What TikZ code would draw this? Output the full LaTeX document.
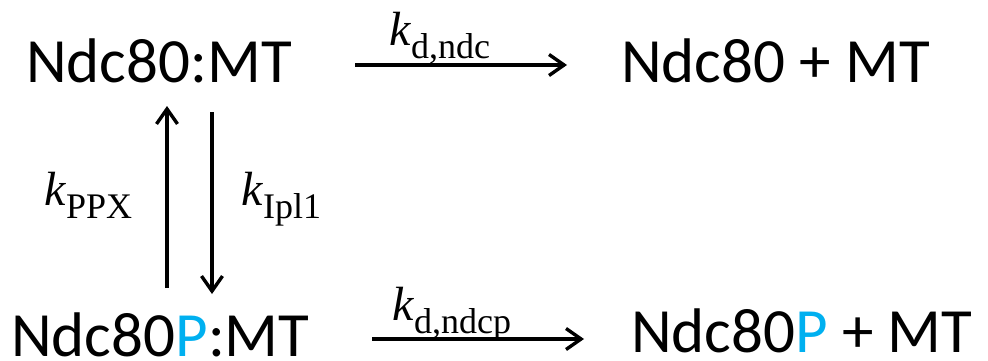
\documentclass[tikz,border=0pt]{standalone}
\usepackage{fontspec}
\setmainfont{Carlito}
\newfontfamily\tnr{Liberation Serif}
\usetikzlibrary{arrows.meta}
\definecolor{pblue}{RGB}{0,176,240}
\newcommand\rk[1]{\textit{k}\raisebox{-13pt}{\fontsize{36}{36}\selectfont #1}}
\newcommand\bp{{\color{pblue}P}}
\begin{document}
\begin{tikzpicture}[x=1pt,y=1pt,
  species/.style={anchor=base west, inner sep=0pt, font=\fontsize{63}{63}\selectfont},
  rate/.style={anchor=base west, inner sep=0pt, font=\tnr\fontsize{48}{48}\selectfont},
  arr/.style={line width=3.4pt, -{Straight Barb[length=15pt,width=21pt]}}]
\useasboundingbox (0,0) rectangle (988,360);
% species
\node[species] (tl) at (26,278) {Ndc80:MT};
\node[species] (tr) at (621,278) {Ndc80 + MT};
\node[species] (bl) at (11,4) {Ndc80\bp{\color{black}:MT}};
\node[species] (br) at (631,8) {Ndc80\bp{\color{black}\ + MT}};
% arrow end points
\coordinate (h1s) at (355,295);
\coordinate (h1e) at (567,295);
\coordinate (h2s) at (372,21);
\coordinate (h2e) at (584,21);
\coordinate (upS) at (167,72);
\coordinate (upE) at (167,254);
\coordinate (dnS) at (212,248);
\coordinate (dnE) at (212,66);
\draw[arr] (h1s) -- (h1e);
\draw[arr] (h2s) -- (h2e);
\draw[arr] (upS) -- (upE);
\draw[arr] (dnS) -- (dnE);
% rate labels
\node[rate] (kd) at (389,315) {\rk{d,ndc}};
\node[rate] (kdp) at (392,40) {\rk{d,ndcp}};
\node[rate] (kppx) at (44,155) {\rk{PPX}};
\node[rate] (kipl) at (241,155) {\rk{Ipl1}};
\end{tikzpicture}
\end{document}
